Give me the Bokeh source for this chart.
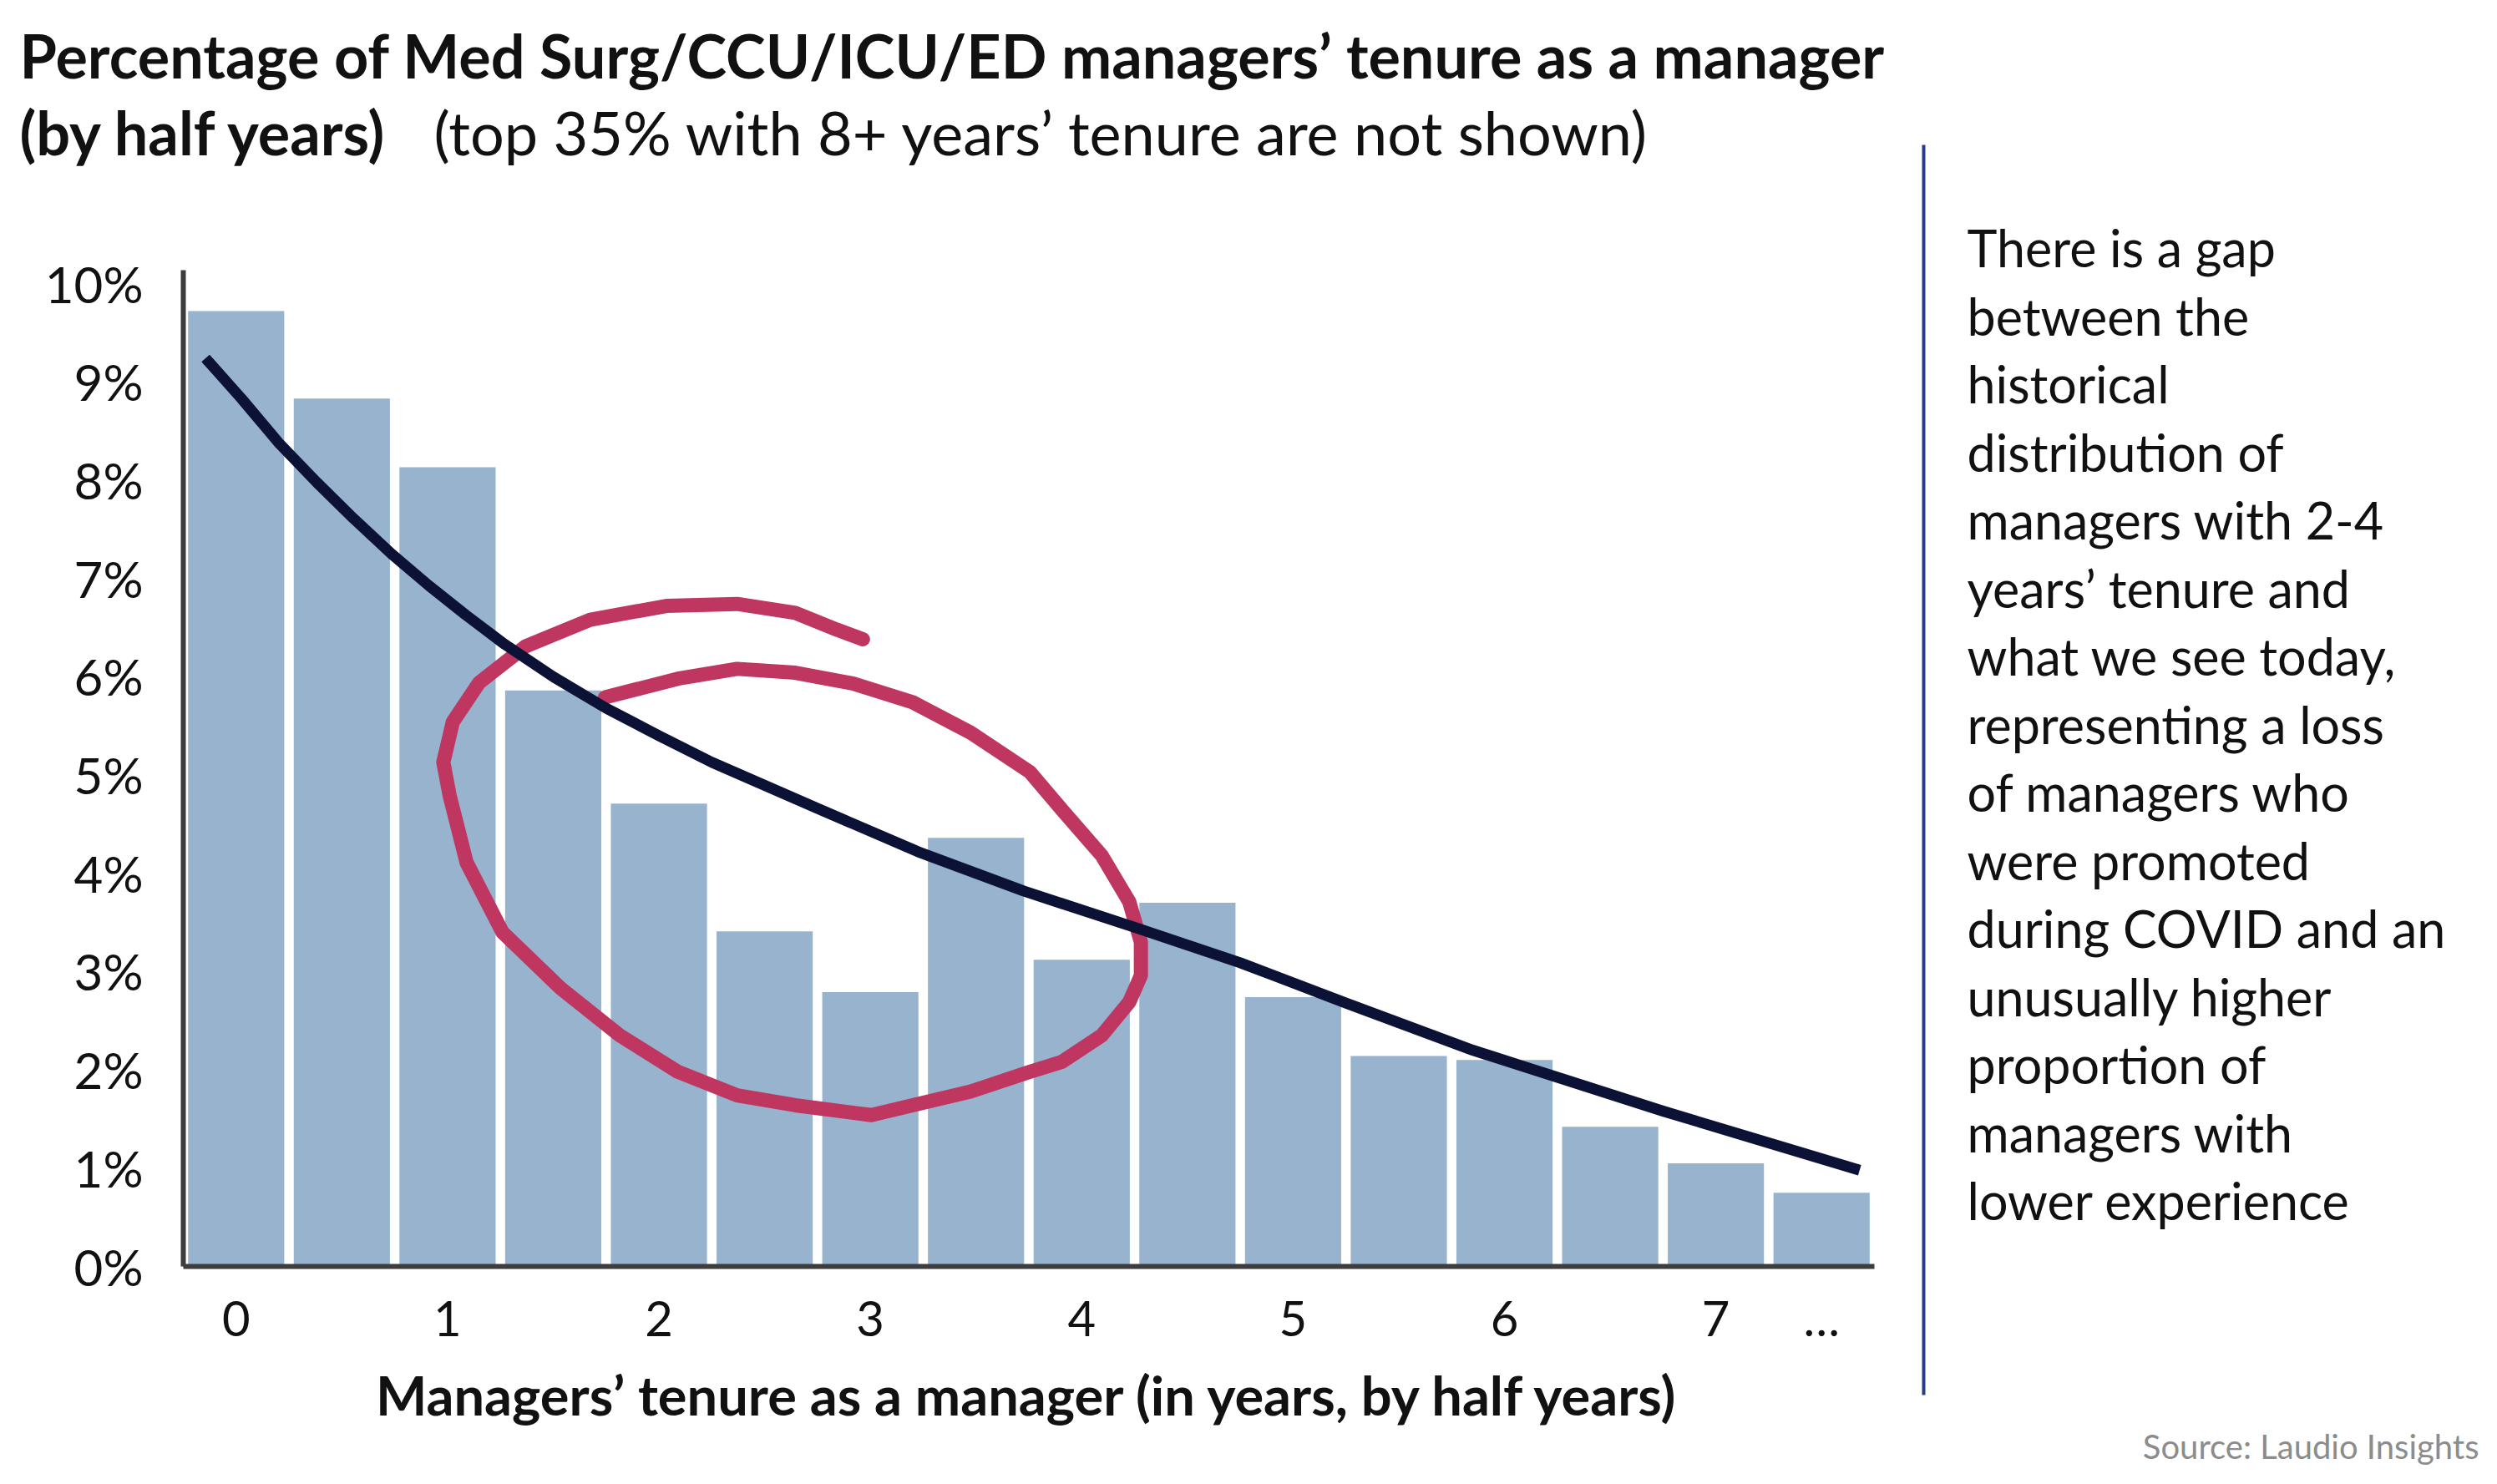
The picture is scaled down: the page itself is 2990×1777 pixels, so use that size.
from bokeh.plotting import figure
from bokeh.models import Range1d, FixedTicker, Label, PrintfTickFormatter
from bokeh.layouts import row, column
from bokeh.embed import file_html
from bokeh.resources import INLINE

# ---------------- data ----------------
half_year_index = list(range(16))
share_pct = [9.72, 8.83, 8.13, 5.86, 4.71, 3.41, 2.79, 4.36, 3.12, 3.70, 2.74, 2.14, 2.10, 1.42, 1.05, 0.75]

x_tick_positions = [0, 2, 4, 6, 8, 10, 12, 14, 15]
x_tick_labels = ["0", "1", "2", "3", "4", "5", "6", "7", "…"]
y_tick_values = list(range(11))

trend_x = [-0.29, 0.05, 0.41, 0.76, 1.11, 1.47, 1.82, 2.17, 2.54, 3.0, 3.5, 4.0, 4.5,
           5.5, 6.45, 7.45, 8.5, 9.5, 10.5, 11.7, 12.6, 13.5, 14.4, 15.36]
trend_y = [9.24, 8.83, 8.37, 7.98, 7.61, 7.25, 6.93, 6.63, 6.33, 6.00, 5.68, 5.40, 5.13,
           4.66, 4.22, 3.82, 3.45, 3.09, 2.68, 2.20, 1.89, 1.58, 1.29, 0.98]

circle_x = [3.49, 4.18, 4.74, 5.29, 5.84, 6.40, 6.95, 7.51, 7.81, 8.19, 8.45, 8.56, 8.56,
            8.45, 8.19, 7.81, 7.51, 6.95, 6.40, 6.01, 5.29, 4.74, 4.18, 3.63, 3.07, 2.52,
            2.18, 2.02, 1.96, 2.05, 2.30, 2.74, 3.35, 4.07, 4.74, 5.29, 5.68, 5.93]
circle_y = [5.79, 5.98, 6.08, 6.04, 5.93, 5.74, 5.43, 5.03, 4.65, 4.18, 3.71, 3.30, 2.96,
            2.69, 2.35, 2.08, 1.98, 1.78, 1.64, 1.54, 1.64, 1.74, 1.98, 2.35, 2.83, 3.40,
            4.11, 4.79, 5.13, 5.54, 5.94, 6.31, 6.58, 6.72, 6.74, 6.65, 6.48, 6.38]

title_line1 = "Percentage of Med Surg/CCU/ICU/ED managers\u2019 tenure as a manager"
title_line2_bold = "(by half years)"
title_line2_rest = "(top 35% with 8+ years\u2019 tenure are not shown)"
x_axis_title = "Managers\u2019 tenure as a manager (in years, by half years)"
note_lines = [
    "There is a gap",
    "between the",
    "historical",
    "distribution of",
    "managers with 2-4",
    "years\u2019 tenure and",
    "what we see today,",
    "representing a loss",
    "of managers who",
    "were promoted",
    "during COVID and an",
    "unusually higher",
    "proportion of",
    "managers with",
    "lower experience",
]
source_text = "Source: Laudio Insights"

# ---------------- layout constants ----------------
FONT = "Lato"
H = 1761
W1 = 2272
W2 = 2974 - W1
HEAD = 205
H1 = H - HEAD
LEFT, RIGHT, TOP, BOTTOM = 219, 28, 118, 245
X0, X1 = -0.5, 15.5
FH = H1 - TOP - BOTTOM
Y0, Y1 = 0.0, FH / 117.7


def blank(width, height, x0, x1, y_top, y_bottom):
    f = figure(width=width, height=height, output_backend="svg", toolbar_location=None,
               x_range=Range1d(x0, x1), y_range=Range1d(y_bottom, y_top),
               min_border=0, x_axis_location=None, y_axis_location=None)
    f.outline_line_color = None
    f.xgrid.visible = False
    f.ygrid.visible = False
    f.frame_align = False
    return f


# header with the two title lines (page pixel coordinates)
head = blank(W1, HEAD, 0, W1, 0, HEAD)
head.add_layout(Label(x=23, y=65, text=title_line1, text_font=FONT, text_font_style="bold",
                      text_font_size="72px", text_color="#111111", text_baseline="alphabetic"))
head.add_layout(Label(x=23, y=157, text=title_line2_bold, text_font=FONT, text_font_style="bold",
                      text_font_size="72px", text_color="#111111", text_baseline="alphabetic"))
head.add_layout(Label(x=519, y=157, text=title_line2_rest, text_font=FONT,
                      text_font_size="72px", text_color="#111111", text_baseline="alphabetic"))

# main chart
p = figure(width=W1, height=H1, output_backend="svg", toolbar_location=None,
           x_range=Range1d(X0, X1), y_range=Range1d(Y0, Y1),
           min_border_left=LEFT, min_border_right=RIGHT,
           min_border_top=TOP, min_border_bottom=BOTTOM)
p.frame_align = False
p.outline_line_color = None
p.xgrid.visible = False
p.ygrid.visible = False

p.vbar(x=half_year_index, top=share_pct, width=0.91, fill_color="#97b3cd", line_color=None)
p.line(circle_x, circle_y, line_width=17, line_color="#bf3661", line_cap="round", line_join="round")
p.line(trend_x, trend_y, line_width=13, line_color="#0b1236", line_join="round")

for ax in (p.xaxis[0], p.yaxis[0]):
    ax.axis_line_color = "#3d3d3d"
    ax.axis_line_width = 6
    ax.major_tick_line_color = None
    ax.minor_tick_line_color = None
    ax.major_label_text_font = FONT
    ax.major_label_text_color = "#111111"

p.yaxis.ticker = FixedTicker(ticks=y_tick_values)
p.yaxis.formatter = PrintfTickFormatter(format="%d%%")
p.yaxis.major_label_text_font_size = "60px"
p.yaxis.major_label_standoff = 42

p.xaxis.ticker = FixedTicker(ticks=x_tick_positions)
p.xaxis.major_label_overrides = {t: l for t, l in zip(x_tick_positions, x_tick_labels)}
p.xaxis.major_label_text_font_size = "58px"
p.xaxis.major_label_standoff = 20
p.xaxis.axis_label = x_axis_title
p.xaxis.axis_label_text_font = FONT
p.xaxis.axis_label_text_font_style = "bold"
p.xaxis.axis_label_text_font_size = "65px"
p.xaxis.axis_label_text_color = "#111111"
p.xaxis.axis_label_standoff = 16

# right side panel (page pixel coordinates)
q = blank(W2, H, W1, W1 + W2, 0, H)
q.line([2303, 2303], [173, 1670], line_width=4, line_color="#2b3a8f")
for k, line in enumerate(note_lines):
    q.add_layout(Label(x=2355, y=296 + 81.5 * k, text=line, text_font=FONT,
                       text_font_size="61px", text_color="#111111", text_baseline="alphabetic"))
q.add_layout(Label(x=2968, y=1731, text=source_text, text_font=FONT, text_font_size="40px",
                   text_color="#8c8c8c", text_align="right", text_baseline="alphabetic"))

layout = row(column(head, p), q)
open("out.html", "w").write(file_html(layout, INLINE))
